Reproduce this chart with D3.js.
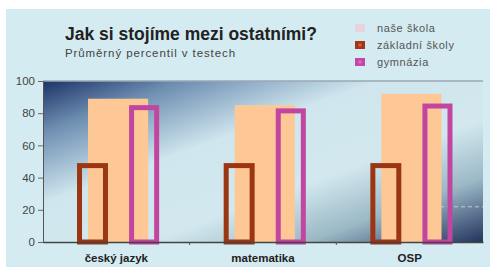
<!DOCTYPE html>
<html><head><meta charset="utf-8">
<script src="https://cdn.jsdelivr.net/npm/d3@7"></script>
<style>html,body{margin:0;padding:0;background:#fff;}svg{display:block;}</style>
</head><body>
<script>
const categories = ["český jazyk", "matematika", "OSP"];
const seriesNames = ["naše škola", "základní školy", "gymnázia"];
const nasSkola = [89, 85, 92];
const zakladniSkoly = [49, 49, 49];
const gymnazia = [85, 83, 86];
const yTicks = [0, 20, 40, 60, 80, 100];

const W = 490, H = 267;
const FONT = "Liberation Sans, Arial, sans-serif";
const m = {left: 43, right: 7, top: 81, bottom: 25};
const svg = d3.select("body").append("svg").attr("width", W).attr("height", H);
const defs = svg.append("defs");
const g1 = defs.append("linearGradient").attr("id", "bg").attr("x1", 0).attr("y1", 0).attr("x2", 1).attr("y2", 1);
[[0, "#1b3267"], [0.16, "#6f8fb2"], [0.38, "#cfe6ee"], [0.62, "#d2e8ee"], [0.8, "#9bb8c6"], [1, "#22335e"]]
  .forEach(([o, c]) => g1.append("stop").attr("offset", o).attr("stop-color", c));

svg.append("rect").attr("x", 6).attr("y", 9).attr("width", W - 6).attr("height", H - 9).attr("fill", "#d4ebf1");

const x = d3.scaleBand().domain(categories).range([m.left, W - m.right]).padding(0);
const y = d3.scaleLinear().domain([0, 100]).range([242, m.top]);

svg.append("rect").attr("x", x.range()[0]).attr("y", y(100)).attr("width", x.range()[1] - x.range()[0])
  .attr("height", y(0) - y(100)).attr("fill", "url(#bg)");
svg.append("line").attr("x1", m.left).attr("x2", W - m.right).attr("y1", y(100)).attr("y2", y(100))
  .attr("stroke", "#9aa9b4").attr("stroke-width", 1.5);
svg.append("line").attr("x1", 440).attr("x2", W - m.right).attr("y1", y(20) - 3).attr("y2", y(20) - 3)
  .attr("stroke", "#dfe9f0").attr("stroke-width", 1).attr("stroke-dasharray", "4,3").attr("opacity", 0.7);

const bw = x.bandwidth();
svg.selectAll(".b1").data(categories).enter().append("rect")
  .attr("x", d => x(d) + bw * 0.307).attr("width", bw * 0.41)
  .attr("y", (d, i) => y(nasSkola[i])).attr("height", (d, i) => y(0) - y(nasSkola[i]))
  .attr("fill", "#fdc896");
svg.selectAll(".b2").data(categories).enter().append("rect")
  .attr("x", d => x(d) + bw * 0.232 + 2.5).attr("width", bw * 0.211 - 5)
  .attr("y", (d, i) => y(zakladniSkoly[i]) + 2.5).attr("height", (d, i) => y(0) - y(zakladniSkoly[i]) - 2.5)
  .attr("fill", "none").attr("stroke", "#9b3512").attr("stroke-width", 5);
svg.selectAll(".b3").data(categories).enter().append("rect")
  .attr("x", d => x(d) + bw * 0.587 + 2.5).attr("width", bw * 0.205 - 5)
  .attr("y", (d, i) => y(gymnazia[i]) + 2.5).attr("height", (d, i) => y(0) - y(gymnazia[i]) - 2.5)
  .attr("fill", "none").attr("stroke", "#c2459f").attr("stroke-width", 5);

const yAxis = svg.append("g").attr("transform", `translate(${m.left},0)`)
  .call(d3.axisLeft(y).tickValues(yTicks).tickSize(5).tickPadding(3));
yAxis.select(".domain").attr("stroke", "#555");
yAxis.selectAll("line").attr("stroke", "#666");
yAxis.selectAll("text").attr("font-family", FONT).attr("font-size", 11.5).attr("fill", "#444");

const xAxis = svg.append("g").attr("transform", `translate(0,${y(0)})`)
  .call(d3.axisBottom(x).tickSize(0).tickPadding(12));
xAxis.select(".domain").attr("stroke", "#444").attr("stroke-width", 1.5);
xAxis.selectAll("text").attr("font-family", FONT).attr("font-size", 11.5)
  .attr("font-weight", "bold").attr("fill", "#222");
xAxis.selectAll(".sep").data(categories.slice(1)).enter().append("line").attr("class", "sep")
  .attr("x1", d => x(d)).attr("x2", d => x(d)).attr("y1", 0).attr("y2", 3).attr("stroke", "#555");

svg.append("text").attr("x", 65).attr("y", 40).text("Jak si stojíme mezi ostatními?")
  .attr("font-family", FONT).attr("font-weight", "bold").attr("font-size", 17.5).attr("fill", "#222");
svg.append("text").attr("x", 65).attr("y", 57).text("Průměrný percentil v testech")
  .attr("font-family", FONT).attr("font-size", 11.5).attr("letter-spacing", 0.9).attr("fill", "#444");

const lg = svg.append("g").attr("transform", "translate(355,24)");
const lc = [["#e6d3dc", "#e6d3dc"], ["#a0361a", "#e0602a"], ["#c448a6", "#d86cc0"]];
seriesNames.forEach((s, i) => {
  const r = lg.append("g").attr("transform", `translate(0,${i * 17})`);
  r.append("rect").attr("width", 10).attr("height", 8).attr("fill", lc[i][0]);
  if (i > 0) r.append("rect").attr("x", 3.5).attr("y", 2.5).attr("width", 3).attr("height", 3).attr("fill", lc[i][1]);
  r.append("text").attr("x", 22).attr("y", 8).text(s)
    .attr("font-family", FONT).attr("font-size", 11).attr("letter-spacing", 0.6).attr("fill", "#555");
});
</script>
</body></html>
